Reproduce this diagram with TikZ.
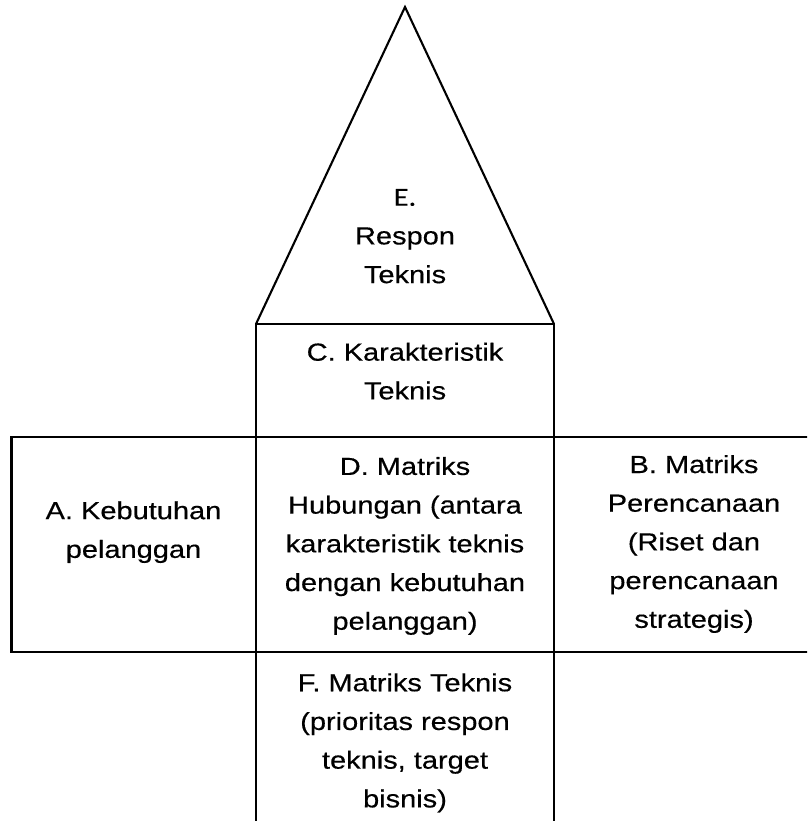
\documentclass[tikz,border=0pt]{standalone}
\usepackage{fontspec}
\setmainfont{Liberation Sans}[FakeStretch=1.174,FakeBold=0.4]
\newfontfamily\efont{Carlito}[FakeStretch=1.17,FakeBold=0.3]
\newcommand{\topstrut}{\rule{0pt}{20pt}}
\newcommand{\botstrut}{\rule[-6pt]{0pt}{6pt}}
\tikzset{
  box/.style={line width=2.1pt, draw=black},
  label/.style={inner sep=0pt, align=center, font=\fontsize{24.7}{38.7}\selectfont}
}
\begin{document}
\begin{tikzpicture}[x=1pt,y=-1pt]
\useasboundingbox (0,0) rectangle (807,821);
\clip (0,0) rectangle (807,821);
% shapes
\draw[box, line join=miter] (256,324) -- (405,7) -- (554,324);
\draw[box] (256,324) rectangle (554,437);
\draw[box] (11.5,437) rectangle (256,652);
\draw[box] (256,437) rectangle (554,652);
\draw[box] (554,437) rectangle (840,652);
\draw[box] (256,652) rectangle (554,840);
% texts
\node[label] (E) at (405,237.4) {\topstrut{\efont\fontsize{26}{38.7}\selectfont E.}\\Respon\\Teknis\botstrut};
\node[label] (C) at (405,373) {\topstrut C. Karakteristik\\Teknis\botstrut};
\node[label] (D) at (405,545.3) {\topstrut D. Matriks\\Hubungan (antara\\karakteristik teknis\\dengan kebutuhan\\pelanggan)\botstrut};
\node[label] (A) at (133.5,531.5) {\topstrut A. Kebutuhan\\pelanggan\botstrut};
\node[label] (B) at (694,543.4) {\topstrut B. Matriks\\Perencanaan\\(Riset dan\\perencanaan\\strategis)\botstrut};
\node[label] (F) at (405,742.3) {\topstrut F. Matriks Teknis\\(prioritas respon\\teknis, target\\bisnis)\botstrut};
\end{tikzpicture}
\end{document}
